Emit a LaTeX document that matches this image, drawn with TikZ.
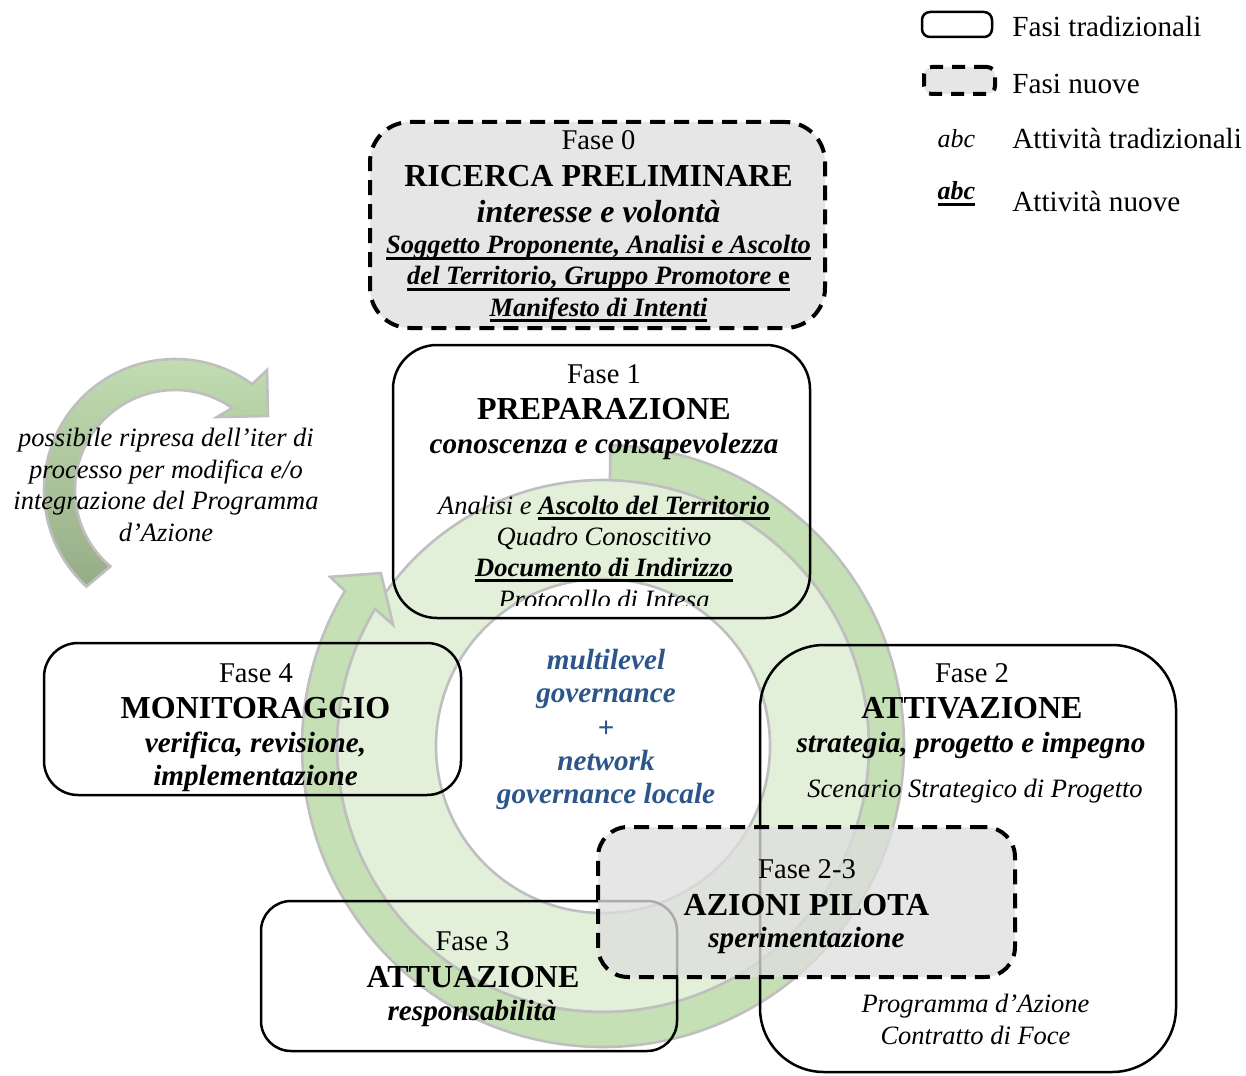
\documentclass[tikz,border=0pt]{standalone}
\usepackage{fontspec}
\setmainfont{Liberation Serif}

\definecolor{ringlight}{RGB}{226,239,217}
\definecolor{ringband}{RGB}{197,224,180}
\definecolor{ringline}{RGB}{191,191,191}
\definecolor{loopdark}{RGB}{150,172,135}
\definecolor{newfill}{RGB}{231,230,230}
\definecolor{pilotfill}{RGB}{222,222,222}
\definecolor{govblue}{RGB}{44,86,138}

% thick underline used for the new activities
\newcommand{\thul}[1]{\setbox0=\hbox{#1}\rlap{\rule[-3pt]{\wd0}{1.3pt}}\box0}

\begin{document}
\begin{tikzpicture}[x=0.5pt,y=0.5pt,
  phase/.style={draw=black, line width=1.25pt, inner sep=0pt},
  newphase/.style={draw=black, line width=2pt, dash pattern=on 7.5pt off 4.5pt, inner sep=0pt},
  ringstroke/.style={draw=ringline, line width=1.3pt},
  txt/.style={anchor=base, inner sep=0pt},
  lbl/.style={txt, font=\fontsize{14.3pt}{17pt}\selectfont},
  ttl/.style={txt, font=\bfseries\fontsize{16pt}{19pt}\selectfont},
  sub/.style={txt, font=\bfseries\itshape\fontsize{14.6pt}{17pt}\selectfont},
  bigsub/.style={txt, font=\bfseries\itshape\fontsize{16pt}{19pt}\selectfont},
  act/.style={txt, font=\itshape\fontsize{13.25pt}{16pt}\selectfont},
  newact/.style={txt, font=\bfseries\itshape\fontsize{13.25pt}{16pt}\selectfont},
  gov/.style={sub, text=govblue},
  leg/.style={anchor=base west, inner sep=0pt, font=\fontsize{14.6pt}{17pt}\selectfont}]

\useasboundingbox (0,0) rectangle (1246,-1075);

% ---------- central cycle ----------
\coordinate (ringc) at (603,-746);
\begin{scope}[shift={(ringc)}]
  \fill[ringlight, even odd rule] (0,0) circle[radius=266] (0,0) circle[radius=167];
  \draw[ringstroke] (0,0) circle[radius=167];
  \draw[ringstroke] (0,0) circle[radius=266];
  \path[ringstroke, fill=ringband, line join=miter]
    (88.6:301) arc[start angle=88.6, end angle=-211, radius=301]
    -- (-211.8:321) -- (-217.9:281.5) -- (-210:242.4) -- (-211:266)
    arc[start angle=-211, end angle=88.5, radius=266] -- cycle;
\end{scope}

% ---------- feedback loop arrow ----------
\coordinate (loopc) at (175,-490);
\begin{scope}[shift={(loopc)}]
  \path[ringstroke, top color=ringband, bottom color=loopdark, line join=miter]
    (227.5:131) arc[start angle=227.5, end angle=53.9, radius=131]
    -- (52.5:151.2) -- (38.5:118.8) -- (60.1:84.2) -- (55.1:100)
    arc[start angle=55.1, end angle=229.8, radius=100] -- cycle;
\end{scope}

% ---------- phase boxes ----------
\node[newphase, fill=newfill, rounded corners=20pt, minimum width=227.5pt, minimum height=103pt] (f0) at (597.5,-225) {};
\node[phase, rounded corners=22pt, minimum width=208.5pt, minimum height=136.5pt] (f1) at (601.5,-481.5) {};
\node[phase, rounded corners=17pt, minimum width=208.5pt, minimum height=76pt] (f4) at (252.5,-719) {};
\node[phase, rounded corners=32pt, minimum width=208pt, minimum height=213.5pt] (f2) at (968,-858.5) {};
\node[phase, rounded corners=15pt, minimum width=208pt, minimum height=75pt] (f3) at (469,-976) {};
\node[newphase, fill=pilotfill, fill opacity=0.77, rounded corners=15pt, minimum width=208.5pt, minimum height=75pt] (f23) at (806.5,-902) {};

% ---------- Fase 0 ----------
\node[lbl] (f0a) at (598.5,-150) {Fase 0};
\node[ttl] (f0b) at (598.5,-187) {RICERCA PRELIMINARE};
\node[bigsub] (f0c) at (598.5,-222) {interesse e volontà};
\node[newact] (f0d) at (598.5,-254) {\thul{Soggetto Proponente, Analisi e Ascolto}};
\node[newact] (f0e) at (598.5,-285) {\thul{del Territorio, Gruppo Promotore {\upshape e}}};
\node[newact] (f0f) at (598.5,-316) {\thul{Manifesto di Intenti}};

% ---------- Fase 1 ----------
\node[lbl] (f1a) at (604,-383) {Fase 1};
\node[ttl] (f1b) at (604,-419) {PREPARAZIONE};
\node[sub] (f1c) at (604,-453) {conoscenza e consapevolezza};
\node[act] (f1d) at (604,-514) {Analisi e \thul{\bfseries Ascolto del Territorio}};
\node[act] (f1e) at (604,-545) {Quadro Conoscitivo};
\node[newact] (f1f) at (604,-576) {\thul{Documento di Indirizzo}};
\begin{scope}
  \clip (393,-560) rectangle (810,-605);
  \node[act] (f1g) at (604,-608) {Protocollo di Intesa};
\end{scope}

% ---------- Fase 4 ----------
\node[lbl] (f4a) at (256,-682) {Fase 4};
\node[ttl] (f4b) at (255.5,-718) {MONITORAGGIO};
\node[sub] (f4c) at (255.5,-752) {verifica, revisione,};
\node[sub] (f4d) at (255.5,-785) {implementazione};

% ---------- Fase 2 ----------
\node[lbl] (f2a) at (972,-682) {Fase 2};
\node[ttl] (f2b) at (972,-718) {ATTIVAZIONE};
\node[sub] (f2c) at (971,-752) {strategia, progetto e impegno};
\node[act] (f2d) at (975,-797) {Scenario Strategico di Progetto};
\node[act] (f2e) at (975.5,-1012) {Programma d’Azione};
\node[act] (f2f) at (975.5,-1044) {Contratto di Foce};

% ---------- Fase 2-3 ----------
\node[lbl] (f23a) at (807,-878) {Fase 2-3};
\node[ttl] (f23b) at (806.5,-915) {AZIONI PILOTA};
\node[sub] (f23c) at (806.5,-947) {sperimentazione};

% ---------- Fase 3 ----------
\node[lbl] (f3a) at (472.5,-950) {Fase 3};
\node[ttl] (f3b) at (473,-987) {ATTUAZIONE};
\node[sub] (f3c) at (472,-1020) {responsabilità};

% ---------- governance core ----------
\node[gov] (g1) at (606,-669) {multilevel};
\node[gov] (g2) at (606,-702) {governance};
\node[gov] (g3) at (606,-737) {+};
\node[gov] (g4) at (606,-770) {network};
\node[gov] (g5) at (606,-803) {governance locale};

% ---------- loop caption ----------
\node[act] (lp1) at (166,-446) {possibile ripresa dell’iter di};
\node[act] (lp2) at (166,-478) {processo per modifica e/o};
\node[act] (lp3) at (166,-509) {integrazione del Programma};
\node[act] (lp4) at (166,-541) {d’Azione};

% ---------- legend ----------
\node[phase, rounded corners=4pt, minimum width=35pt, minimum height=12.5pt] (legold) at (957,-24.5) {};
\node[newphase, fill=newfill, rounded corners=4pt, minimum width=35.5pt, minimum height=13.5pt, dash pattern=on 6.5pt off 4.5pt] (legnew) at (959.5,-80.5) {};
\node[act, font=\itshape\fontsize{13pt}{16pt}\selectfont] (legabc) at (956.5,-148) {abc};
\node[newact, font=\bfseries\itshape\fontsize{13pt}{16pt}\selectfont] (legabcn) at (956.5,-200) {\thul{abc}};
\node[leg] (legt1) at (1012,-37) {Fasi tradizionali};
\node[leg] (legt2) at (1012,-94) {Fasi nuove};
\node[leg] (legt3) at (1012,-149) {Attività tradizionali};
\node[leg] (legt4) at (1012,-212) {Attività nuove};

\end{tikzpicture}
\end{document}
